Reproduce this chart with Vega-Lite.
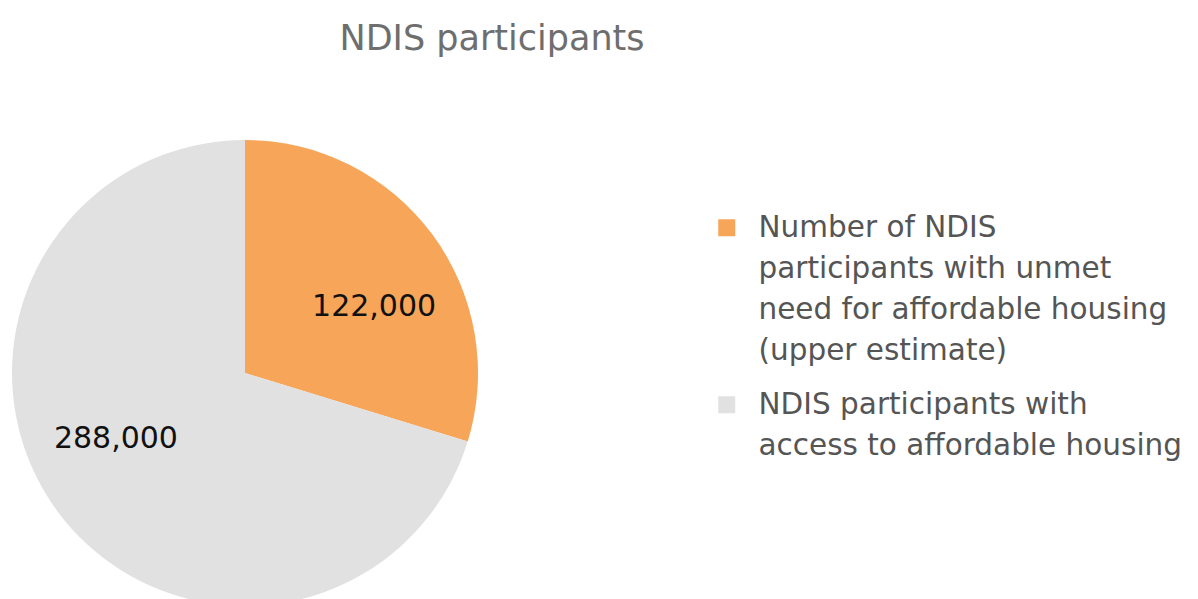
{
  "$schema": "https://vega.github.io/schema/vega-lite/v6.json",
  "width": 490,
  "height": 746,
  "autosize": "none",
  "padding": {"left": 0, "top": 0, "right": 708, "bottom": 0},
  "background": "white",
  "title": {
    "text": "NDIS participants",
    "orient": "top",
    "anchor": "middle",
    "frame": "group",
    "dx": 247,
    "offset": -57,
    "font": "DejaVu Sans",
    "fontSize": 35,
    "fontWeight": "normal",
    "color": "#6e6e6e"
  },
  "data": {
    "values": [
      {"category": "Number of NDIS participants with unmet need for affordable housing (upper estimate)", "value": 122000, "label": "122,000", "order": 1},
      {"category": "NDIS participants with access to affordable housing", "value": 288000, "label": "288,000", "order": 2}
    ]
  },
  "encoding": {
    "theta": {"field": "value", "type": "quantitative", "stack": true},
    "order": {"field": "order", "type": "quantitative"}
  },
  "layer": [
    {
      "mark": {"type": "arc", "outerRadius": 233},
      "encoding": {
        "color": {
          "field": "category",
          "type": "nominal",
          "scale": {
            "domain": [
              "Number of NDIS participants with unmet need for affordable housing (upper estimate)",
              "NDIS participants with access to affordable housing"
            ],
            "range": ["#F7A659", "#E1E1E1"]
          },
          "legend": {
            "title": null,
            "orient": "none",
            "legendX": 712,
            "legendY": 213,
            "symbolType": "square",
            "symbolSize": 289,
            "symbolStrokeWidth": 0,
            "labelFont": "DejaVu Sans",
            "labelFontSize": 29.5,
            "labelColor": "#555555",
            "labelOffset": 17,
            "labelLimit": 600,
            "rowPadding": 23,
            "labelExpr": "datum.label == 'NDIS participants with access to affordable housing' ? ['NDIS participants with', 'access to affordable housing'] : ['Number of NDIS', 'participants with unmet', 'need for affordable housing', '(upper estimate)']",
            "encode": {
              "labels": {"update": {"lineHeight": {"value": 41}}}
            }
          }
        }
      }
    },
    {
      "mark": {
        "type": "text",
        "radius": 145,
        "thetaOffset": 0.163,
        "font": "DejaVu Sans",
        "fontSize": 30,
        "color": "#111111"
      },
      "encoding": {
        "text": {"field": "label", "type": "nominal"}
      }
    }
  ]
}
